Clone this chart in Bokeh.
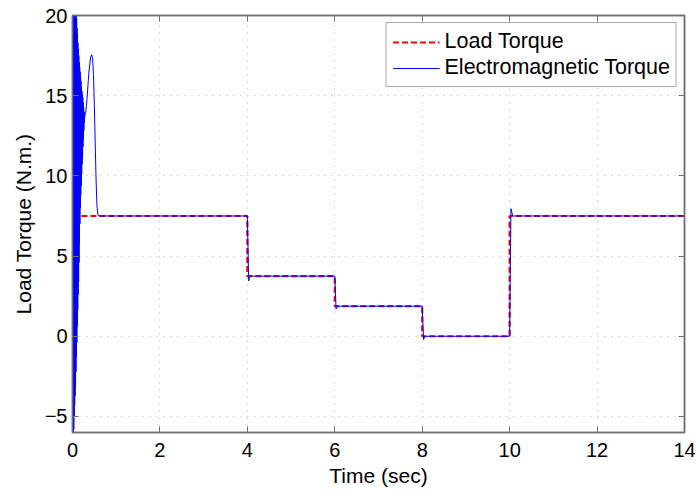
from bokeh.plotting import figure
from bokeh.models import LinearAxis, FixedTicker, Range1d, Legend, LegendItem, CustomJSTickFormatter
from bokeh.embed import file_html
from bokeh.resources import INLINE

# Load torque (step profile)
load_t = [0.0, 4.0, 4.0, 6.0, 6.0, 8.0, 8.0, 10.0, 10.0, 14.0]
load_v = [7.5, 7.5, 3.75, 3.75, 1.875, 1.875, 0.0, 0.0, 7.5, 7.5]

# Electromagnetic torque
em_t = [0.000, 0.005, 0.010, 0.015, 0.020, 0.025, 0.030, 0.035, 0.040, 0.045,
        0.050, 0.055, 0.060, 0.065, 0.070, 0.075, 0.080, 0.085, 0.090, 0.095,
        0.100, 0.105, 0.110, 0.115, 0.120, 0.125, 0.130, 0.135, 0.140, 0.145,
        0.150, 0.155, 0.160, 0.165, 0.170, 0.175, 0.180, 0.185, 0.190, 0.195,
        0.200, 0.205, 0.210, 0.215, 0.220, 0.225, 0.230, 0.235, 0.240, 0.245,
        0.250, 0.255, 0.260, 0.265, 0.270,
        0.280, 0.300, 0.320, 0.340, 0.360, 0.380, 0.400, 0.420, 0.440, 0.460,
        0.480, 0.500, 0.520, 0.540, 0.560, 0.580, 0.600,
        4.00, 4.03, 4.06, 6.00, 6.03, 6.06, 8.00, 8.03, 8.06, 10.00, 10.03, 10.07, 14.0]
em_v = [-8.0, 24.0, -7.5, 24.0, -6.5, 24.0, -5.8, 24.0, -5.0, 24.0,
        -4.3, 23.0, -3.7, 22.5, -3.1, 21.5, -2.2, 20.5, -1.3, 19.8,
        -0.4, 19.2, 0.6, 18.8, 1.6, 18.3, 2.6, 17.9, 3.4, 17.5,
        4.6, 17.1, 5.8, 16.8, 7.0, 16.5, 8.0, 16.2, 8.8, 15.9,
        9.4, 15.6, 10.1, 15.3, 10.7, 15.1, 11.2, 14.9, 11.8, 14.6,
        12.3, 14.3, 12.8, 14.0, 13.3,
        13.7, 13.9, 14.4, 15.1, 15.9, 16.6, 17.1, 17.45, 17.55, 17.3,
        16.3, 14.4, 12.0, 9.7, 8.1, 7.6, 7.5,
        7.5, 3.45, 3.75, 3.75, 1.7, 1.875, 1.875, -0.2, 0.0, 0.0, 7.95, 7.5, 7.5]

x_ticks = [0, 2, 4, 6, 8, 10, 12, 14]
y_ticks = [-5, 0, 5, 10, 15, 20]

FONT = "Liberation Sans"
AXC = "#707070"

p = figure(width=697, height=495, output_backend="svg", toolbar_location=None,
           x_range=Range1d(0, 14), y_range=Range1d(-6, 20),
           min_border_left=72, min_border_right=13, min_border_top=15, min_border_bottom=63)
p.background_fill_color = "white"
p.border_fill_color = "white"
p.outline_line_color = AXC
p.outline_line_width = 1.5

r_load = p.line(load_t, load_v, line_color="#ff0000", line_width=2.2, line_dash="6 3")
r_em = p.line(em_t, em_v, line_color="#0000ff", line_width=1)

for ax, tk in ((p.xaxis[0], x_ticks), (p.yaxis[0], y_ticks)):
    ax.ticker = FixedTicker(ticks=tk)
    ax.major_tick_in = 6
    ax.major_tick_out = 0
    ax.minor_tick_line_color = None
    ax.axis_line_color = AXC
    ax.axis_line_width = 1.5
    ax.major_tick_line_color = AXC
    ax.major_label_text_font = FONT
    ax.major_label_text_font_size = "20px"
    ax.major_label_text_color = "black"
    ax.axis_label_text_font = FONT
    ax.axis_label_text_font_size = "21px"
    ax.axis_label_text_font_style = "normal"
    ax.axis_label_text_color = "black"

p.xaxis[0].axis_label = "Time (sec)"
p.xaxis[0].major_label_standoff = 10
p.xaxis[0].axis_label_standoff = 4
p.yaxis[0].axis_label = "Load Torque (N.m.)"
p.yaxis[0].major_label_standoff = 5
p.yaxis[0].axis_label_standoff = 7

# mirrored tick marks on top and right (no labels)
for loc, tk in (("above", x_ticks), ("right", y_ticks)):
    a = LinearAxis(ticker=FixedTicker(ticks=tk),
                   formatter=CustomJSTickFormatter(code="return ''"))
    a.major_tick_in = 6
    a.major_tick_out = 0
    a.minor_tick_line_color = None
    a.axis_line_color = AXC
    a.axis_line_width = 1.5
    a.major_tick_line_color = AXC
    a.major_label_text_color = None
    a.major_label_text_font_size = "1px"
    a.major_label_standoff = 0
    p.add_layout(a, loc)

p.xgrid.ticker = FixedTicker(ticks=x_ticks)
p.ygrid.ticker = FixedTicker(ticks=y_ticks)
for g in (p.xgrid[0], p.ygrid[0]):
    g.grid_line_color = "#b8b8b8"
    g.grid_line_dash = "1 6"
    g.grid_line_width = 1

legend = Legend(items=[LegendItem(label="Load Torque", renderers=[r_load]),
                       LegendItem(label="Electromagnetic Torque", renderers=[r_em])],
                location="top_right")
legend.margin = 7
legend.padding = 6
legend.spacing = 1
legend.glyph_width = 47
legend.label_standoff = 5
legend.label_text_font = FONT
legend.label_text_font_size = "21.5px"
legend.label_text_color = "black"
legend.border_line_color = "#555555"
legend.border_line_width = 1
legend.background_fill_color = "white"
legend.background_fill_alpha = 1
p.add_layout(legend, "center")

open("out.html", "w").write(file_html(p, INLINE))
